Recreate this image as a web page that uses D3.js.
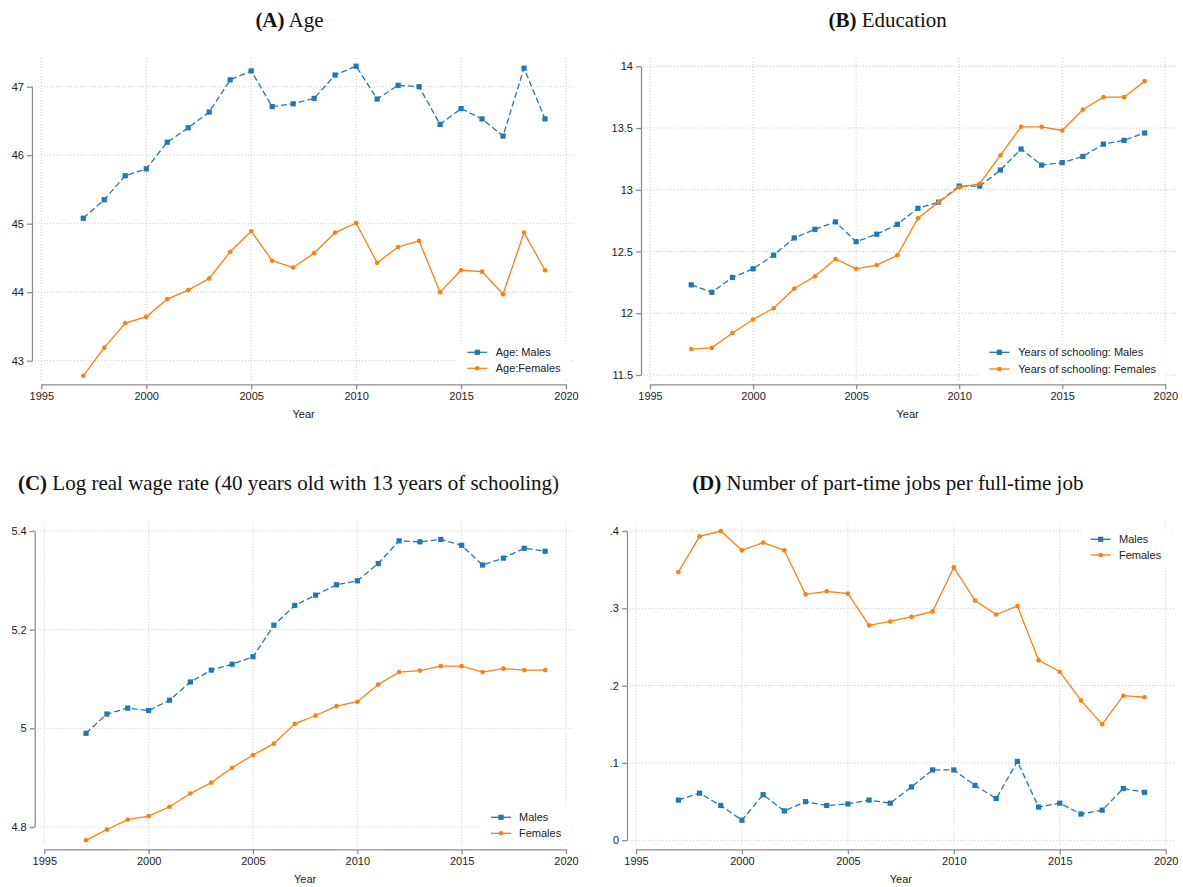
<!DOCTYPE html>
<html>
<head>
<meta charset="utf-8">
<script src="https://cdn.jsdelivr.net/npm/d3@7"></script>
<style>
  body { margin: 0; background: #fff; }
  svg { display: block; }
</style>
</head>
<body>
<svg id="chart" width="1183" height="887"></svg>
<script>
// ---- data -------------------------------------------------------------
const years = [1997, 1998, 1999, 2000, 2001, 2002, 2003, 2004, 2005, 2006, 2007, 2008,
               2009, 2010, 2011, 2012, 2013, 2014, 2015, 2016, 2017, 2018, 2019];

const ageMales   = [45.08, 45.35, 45.70, 45.80, 46.19, 46.40, 46.63, 47.10, 47.23, 46.71, 46.75, 46.83,
                    47.17, 47.30, 46.82, 47.02, 47.00, 46.45, 46.68, 46.53, 46.28, 47.27, 46.53];
const ageFemales = [42.78, 43.19, 43.55, 43.64, 43.90, 44.03, 44.20, 44.59, 44.89, 44.46, 44.36, 44.57,
                    44.87, 45.01, 44.43, 44.66, 44.75, 44.00, 44.32, 44.30, 43.97, 44.87, 44.32];

const eduMales   = [12.23, 12.17, 12.29, 12.36, 12.47, 12.61, 12.68, 12.74, 12.58, 12.64, 12.72, 12.85,
                    12.90, 13.03, 13.03, 13.16, 13.33, 13.20, 13.22, 13.27, 13.37, 13.40, 13.46];
const eduFemales = [11.71, 11.72, 11.84, 11.95, 12.04, 12.20, 12.30, 12.44, 12.36, 12.39, 12.47, 12.77,
                    12.90, 13.02, 13.05, 13.28, 13.51, 13.51, 13.48, 13.65, 13.75, 13.75, 13.88];

const wageMales   = [4.990, 5.029, 5.041, 5.036, 5.057, 5.094, 5.118, 5.130, 5.145, 5.209, 5.249, 5.270,
                     5.291, 5.299, 5.334, 5.380, 5.378, 5.383, 5.371, 5.331, 5.345, 5.365, 5.359];
const wageFemales = [4.773, 4.795, 4.815, 4.822, 4.841, 4.868, 4.890, 4.920, 4.946, 4.969, 5.009, 5.026,
                     5.045, 5.054, 5.089, 5.114, 5.117, 5.126, 5.126, 5.114, 5.121, 5.118, 5.118];

const ptMales   = [0.052, 0.061, 0.045, 0.026, 0.059, 0.038, 0.050, 0.045, 0.047, 0.052, 0.048, 0.069,
                   0.091, 0.091, 0.071, 0.054, 0.102, 0.043, 0.048, 0.034, 0.039, 0.067, 0.062];
const ptFemales = [0.347, 0.393, 0.400, 0.375, 0.385, 0.375, 0.318, 0.322, 0.319, 0.278, 0.283, 0.289,
                   0.296, 0.353, 0.310, 0.292, 0.303, 0.233, 0.218, 0.181, 0.150, 0.187, 0.185];

const yearTicks = [1995, 2000, 2005, 2010, 2015, 2020];
const ageTicks  = [43, 44, 45, 46, 47];
const eduTicks  = [11.5, 12, 12.5, 13, 13.5, 14];
const wageTicks = [4.8, 5, 5.2, 5.4];
const ptTicks   = [0, 0.1, 0.2, 0.3, 0.4];
const ptTickLabels = ["0", ".1", ".2", ".3", ".4"];

const panelTitles = [
  ["(A)", " Age"],
  ["(B)", " Education"],
  ["(C)", " Log real wage rate (40 years old with 13 years of schooling)"],
  ["(D)", " Number of part-time jobs per full-time job"]
];
const legendLabels = [
  ["Age: Males", "Age:Females"],
  ["Years of schooling: Males", "Years of schooling: Females"],
  ["Males", "Females"],
  ["Males", "Females"]
];
const xAxisTitle = "Year";

// ---- styling ----------------------------------------------------------
const BLUE = "#1f77b4";
const ORANGE = "#ff7f0e";
const AXIS = "#8e8e8e";
const GRID = "#c9c9c9";
const TEXT = "#222";
const SANS = "'Liberation Sans', Arial, Helvetica, sans-serif";
const SERIF = "'Liberation Serif', 'Times New Roman', serif";

const svg = d3.select("#chart");

function drawPanel(p) {
  const g = svg.append("g");

  const x = d3.scaleLinear().domain([1995, 2020]).range([p.x0, p.x1]);
  const y = d3.scaleLinear().domain([p.yTicks[0], p.yTicks[p.yTicks.length - 1]])
                            .range([p.yLoPx, p.yHiPx]);

  // dotted grid
  g.append("g").selectAll("line").data(p.yTicks).join("line")
    .attr("x1", p.axisX).attr("x2", p.right)
    .attr("y1", d => y(d)).attr("y2", d => y(d))
    .attr("stroke", GRID).attr("stroke-width", 1).attr("stroke-dasharray", "1,2");
  g.append("g").selectAll("line").data(yearTicks).join("line")
    .attr("x1", d => x(d)).attr("x2", d => x(d))
    .attr("y1", p.top).attr("y2", p.gridBottom)
    .attr("stroke", GRID).attr("stroke-width", 1).attr("stroke-dasharray", "1,2");

  // axes
  const yAxis = d3.axisLeft(y).tickValues(p.yTicks).tickSize(5).tickSizeOuter(0).tickPadding(3)
    .tickFormat((d, i) => p.yLabels ? p.yLabels[i] : String(d));
  const ya = g.append("g").attr("transform", `translate(${p.axisX},0)`).call(yAxis);

  const xAxis = d3.axisBottom(x).tickValues(yearTicks).tickSize(5).tickSizeOuter(0).tickPadding(3)
    .tickFormat(d3.format("d"));
  const xa = g.append("g").attr("transform", `translate(0,${p.xAxisY})`).call(xAxis);

  [ya, xa].forEach(a => {
    a.select(".domain").attr("stroke", AXIS).attr("stroke-width", 1.3);
    a.selectAll(".tick line").attr("stroke", AXIS).attr("stroke-width", 1.3);
    a.selectAll(".tick text").attr("fill", TEXT).style("font-family", SANS).style("font-size", "11px");
  });

  g.append("text")
    .attr("x", (p.x0 + p.x1) / 2).attr("y", p.xAxisY + 34)
    .attr("text-anchor", "middle").attr("fill", TEXT)
    .style("font-family", SANS).style("font-size", "11px")
    .text(xAxisTitle);

  // title
  const t = g.append("text")
    .attr("x", p.titleX).attr("y", p.titleY)
    .attr("text-anchor", "middle").attr("fill", "#111")
    .style("font-family", SERIF).style("font-size", "21px");
  t.append("tspan").attr("font-weight", "bold").text(p.title[0]);
  t.append("tspan").text(p.title[1]);

  // series
  const line = vals => d3.line().x((d, i) => x(years[i])).y(d => y(d))(vals);

  g.append("path").attr("d", line(p.males))
    .attr("fill", "none").attr("stroke", BLUE).attr("stroke-width", 1.3)
    .attr("stroke-dasharray", "6,3");
  g.append("path").attr("d", line(p.females))
    .attr("fill", "none").attr("stroke", ORANGE).attr("stroke-width", 1.3);

  g.append("g").selectAll("rect").data(p.males).join("rect")
    .attr("x", (d, i) => x(years[i]) - 2.6).attr("y", d => y(d) - 2.6)
    .attr("width", 5.2).attr("height", 5.2).attr("fill", BLUE);
  g.append("g").selectAll("circle").data(p.females).join("circle")
    .attr("cx", (d, i) => x(years[i])).attr("cy", d => y(d))
    .attr("r", 2.3).attr("fill", ORANGE);

  // legend
  const lg = g.append("g");
  const box = lg.append("rect").attr("fill", "#fff");
  const rows = [
    { label: p.legend[0], color: BLUE, shape: "square" },
    { label: p.legend[1], color: ORANGE, shape: "circle" }
  ];
  const texts = [];
  rows.forEach((r, i) => {
    const ry = p.legRow[i];
    lg.append("line").attr("x1", p.legLine[0]).attr("x2", p.legLine[1])
      .attr("y1", ry).attr("y2", ry).attr("stroke", r.color).attr("stroke-width", 1.3);
    const cx = (p.legLine[0] + p.legLine[1]) / 2;
    if (r.shape === "square") {
      lg.append("rect").attr("x", cx - 2.6).attr("y", ry - 2.6)
        .attr("width", 5.2).attr("height", 5.2).attr("fill", r.color);
    } else {
      lg.append("circle").attr("cx", cx).attr("cy", ry).attr("r", 2.3).attr("fill", r.color);
    }
    texts.push(lg.append("text").attr("x", p.legText).attr("y", ry)
      .attr("dominant-baseline", "central").attr("fill", TEXT)
      .style("font-family", SANS).style("font-size", "11px").text(r.label));
  });
  const maxRight = d3.max(texts, s => { const b = s.node().getBBox(); return b.x + b.width; });
  box.attr("x", p.legLine[0] - 10).attr("y", p.legRow[0] - 10)
     .attr("width", maxRight + 9 - (p.legLine[0] - 10))
     .attr("height", p.legRow[1] - p.legRow[0] + 20);
}

const panels = [
  { title: panelTitles[0], titleX: 289.5, titleY: 26.7,
    axisX: 32, x0: 41.3, x1: 566, right: 574, top: 58, gridBottom: 381.7, xAxisY: 384.3,
    yTicks: ageTicks, yLoPx: 360.7, yHiPx: 86.7,
    males: ageMales, females: ageFemales,
    legend: legendLabels[0], legRow: [352.3, 368.3], legLine: [467.3, 487.3], legText: 495.7 },
  { title: panelTitles[1], titleX: 887.6, titleY: 26.7,
    axisX: 641, x0: 650, x1: 1165.3, right: 1176, top: 58, gridBottom: 381.7, xAxisY: 384.3,
    yTicks: eduTicks, yLoPx: 375, yHiPx: 66.3,
    males: eduMales, females: eduFemales,
    legend: legendLabels[1], legRow: [352.3, 369], legLine: [989.3, 1009.3], legText: 1018.3 },
  { title: panelTitles[2], titleX: 288.5, titleY: 489.5,
    axisX: 34.7, x0: 44.3, x1: 566, right: 574, top: 522.7, gridBottom: 846.7, xAxisY: 849.3,
    yTicks: wageTicks, yLoPx: 827, yHiPx: 531,
    males: wageMales, females: wageFemales,
    legend: legendLabels[2], legRow: [817.3, 833.3], legLine: [491, 511], legText: 519 },
  { title: panelTitles[3], titleX: 887.8, titleY: 489.5,
    axisX: 627, x0: 636, x1: 1165.7, right: 1175, top: 522.7, gridBottom: 846.7, xAxisY: 849.3,
    yTicks: ptTicks, yLabels: ptTickLabels, yLoPx: 840.3, yHiPx: 531,
    males: ptMales, females: ptFemales,
    legend: legendLabels[3], legRow: [539.3, 555], legLine: [1090.7, 1110.7], legText: 1119 }
];

panels.forEach(drawPanel);
</script>
</body>
</html>
